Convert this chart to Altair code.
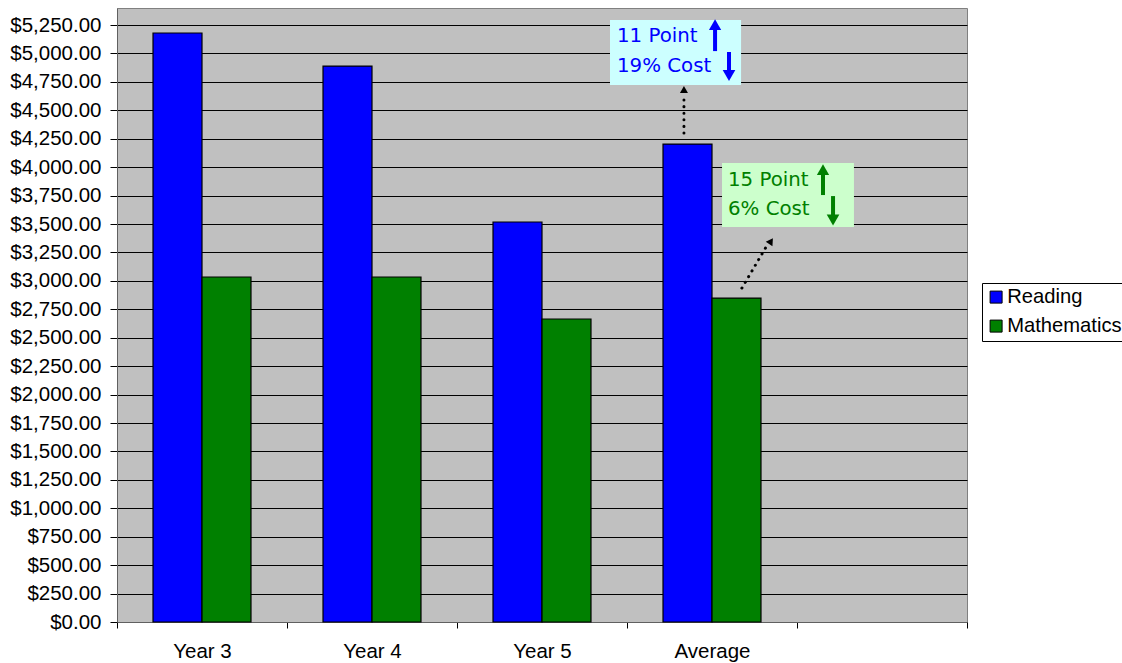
import altair as alt
import pandas as pd

# ---- chart values ----
categories = ["Year 3", "Year 4", "Year 5", "Average"]
reading = [5180, 4889, 3518, 4203]
mathematics = [3034, 3034, 2665, 2849]
subjects = ["Reading", "Mathematics"]
subject_colors = ["#0000FF", "#008000"]
axis_slots = categories + [" "]          # trailing empty slot on the category axis
y_ticks = list(range(0, 5251, 250))

callout_text = ["11 Point", "19% Cost", "15 Point", "6% Cost"]

bars_df = pd.DataFrame({
    "Category": categories * 2,
    "Subject": ["Reading"] * 4 + ["Mathematics"] * 4,
    "Value": reading + mathematics,
})

# ---- callout geometry (x in category units 0..5, y in dollars) ----
blue, green = "#0000FF", "#008000"

boxes = pd.DataFrame({
    "x": [2.900, 3.559], "x2": [3.671, 4.335],
    "y": [5294, 4036], "y2": [4722, 3474],
    "paper": ["#CCFFFF", "#CCFFCC"],
})

labels = pd.DataFrame({
    "x": [2.941, 2.941, 3.594, 3.594],
    "y": [5100, 4837, 3834, 3579],
    "text": callout_text,
    "ink": [blue, blue, green, green],
})

shafts = pd.DataFrame({
    "x": [3.518, 3.600, 4.153, 4.212],
    "y": [5021, 5013, 3755, 3746],
    "y2": [5232, 4846, 3948, 3570],
    "ink": [blue, blue, green, green],
})

heads = pd.DataFrame({
    "x": [3.518, 3.600, 4.153, 4.212, 3.335, 3.847],
    "y": [5254, 4806, 3979, 3535, 4683, 3350],
    "angle": [0, 180, 0, 180, 0, 33],
    "size": [150, 160, 150, 160, 64, 64],
    "ink": [blue, blue, green, green, "#000000", "#000000"],
})

pointers = pd.DataFrame({
    "x": [3.335, 3.676], "x2": [3.335, 3.818],
    "y": [4300, 2937], "y2": [4634, 3298],
})

# ---- scales and axes ----
y_scale = alt.Scale(domain=[0, 5400], nice=False, zero=True)
y_axis = alt.Axis(title=None, values=y_ticks, format="$,.2f", tickSize=7,
                  labelPadding=9, grid=True)
u_scale = alt.Scale(domain=[0, 5], nice=False, zero=False)


def ux(field):
    return alt.X(f"{field}:Q", scale=u_scale, axis=None)


def uy(field):
    return alt.Y(f"{field}:Q", scale=y_scale, axis=y_axis)


bars = alt.Chart(bars_df).mark_bar(stroke="#000000", strokeWidth=1.2).encode(
    x=alt.X(
        "Category:N",
        sort=axis_slots,
        scale=alt.Scale(domain=axis_slots, paddingInner=0, paddingOuter=0),
        axis=alt.Axis(title=None, labelAngle=0, tickBand="extent", tickSize=6,
                      labelPadding=13, grid=False),
    ),
    xOffset=alt.XOffset(
        "Subject:N",
        scale=alt.Scale(domain=subjects, paddingInner=0, paddingOuter=0.735),
    ),
    y=alt.Y("Value:Q", scale=y_scale, axis=y_axis),
    color=alt.Color(
        "Subject:N",
        scale=alt.Scale(domain=subjects, range=subject_colors),
        legend=alt.Legend(title=None),
    ),
)

box_layer = alt.Chart(boxes).mark_rect().encode(
    x=ux("x"), x2="x2", y=uy("y"), y2="y2",
    fill=alt.Fill("paper:N", scale=None),
)

shaft_layer = alt.Chart(shafts).mark_rule(strokeWidth=4).encode(
    x=ux("x"), y=uy("y"), y2="y2",
    stroke=alt.Stroke("ink:N", scale=None),
)

pointer_layer = alt.Chart(pointers).mark_rule(
    strokeWidth=3, strokeCap="round", strokeDash=[0.1, 6.5], color="#000000"
).encode(x=ux("x"), x2="x2", y=uy("y"), y2="y2")

head_layer = alt.Chart(heads).mark_point(
    shape="triangle-up", filled=True, opacity=1, strokeWidth=0
).encode(
    x=ux("x"), y=uy("y"),
    angle=alt.Angle("angle:Q", scale=None),
    size=alt.Size("size:Q", scale=None),
    fill=alt.Fill("ink:N", scale=None),
)

text_layer = alt.Chart(labels).mark_text(
    align="left", baseline="alphabetic", font="DejaVu Sans", fontSize=19.8
).encode(
    x=ux("x"), y=uy("y"), text="text:N",
    fill=alt.Fill("ink:N", scale=None),
)

chart = (
    alt.layer(bars, box_layer, shaft_layer, pointer_layer, head_layer, text_layer)
    .resolve_scale(x="independent")
    .properties(
        width=850,
        height=614,
        padding={"left": 117, "top": 8, "right": 155, "bottom": 41},
        autosize=alt.AutoSizeParams(type="none"),
        background="#FFFFFF",
    )
    .configure_view(fill="#C0C0C0", stroke="#808080", strokeWidth=1)
    .configure_axis(
        labelFont="Liberation Sans",
        labelFontSize=20.5,
        labelColor="#000000",
        tickColor="#000000",
        domainColor="#606060",
        gridColor="#000000",
        gridWidth=1,
        gridOpacity=1,
    )
    .configure_legend(
        orient="none",
        legendX=865,
        legendY=275,
        fillColor="#FFFFFF",
        strokeColor="#000000",
        padding=4,
        rowPadding=8,
        symbolType="square",
        symbolSize=144,
        symbolStrokeColor="#000000",
        symbolStrokeWidth=1,
        symbolOpacity=1,
        labelFont="Liberation Sans",
        labelFontSize=20.2,
        labelColor="#000000",
        labelOffset=1,
    )
)

chart.save("out.html", embed_options={"renderer": "svg", "actions": False})
